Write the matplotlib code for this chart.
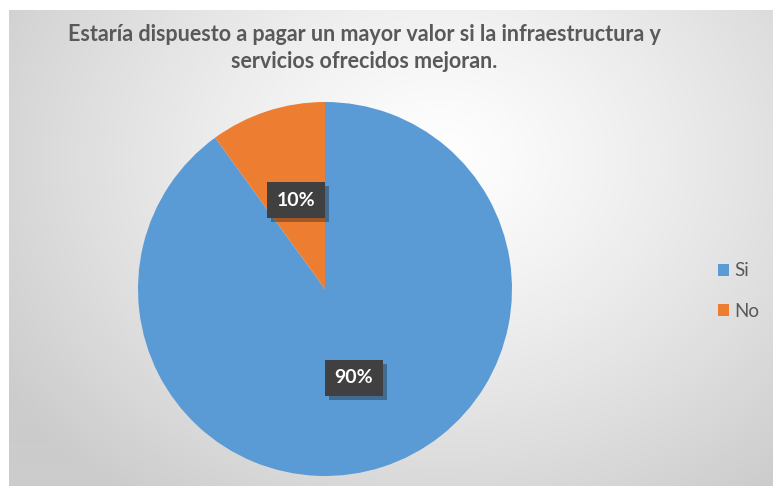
import numpy as np
import matplotlib
matplotlib.use("Agg")
import matplotlib.pyplot as plt
import matplotlib.patheffects as pe
from matplotlib.patches import Patch

plt.rcParams['font.family'] = ['Lato', 'DejaVu Sans']

# data
labels = ["Si", "No"]
values = [90, 10]
colors = ["#5B9BD5", "#ED7D31"]
title = "Estaría dispuesto a pagar un mayor valor si la infraestructura y\nservicios ofrecidos mejoran."

W, H = 773, 486
fig = plt.figure(figsize=(W / 100, H / 100), dpi=100)
fig.patch.set_facecolor("white")

# chart area with radial grey gradient
bg = fig.add_axes([9 / W, 0, 1 - 9 / W, 1 - 10 / H])
bg.set_axis_off()
yy, xx = np.mgrid[0:476, 0:764]
cx, cy = 430, 150
d = np.sqrt(((xx - cx) / 520.0) ** 2 + ((yy - cy) / 420.0) ** 2)
d = np.clip(d, 0, 1)
shade = 1.0 - 0.20 * d ** 1.2
img = np.dstack([shade, shade, shade])
bg.imshow(img, aspect="auto", extent=[0, 1, 0, 1], origin="upper")
bg.set_xlim(0, 1)
bg.set_ylim(0, 1)

fig.text(364 / W, 1 - 48 / H, title, ha="center", va="center", fontsize=15.5,
         fontweight="bold", color="#595959", linespacing=1.4)

# pie
cx_px, cy_px, r_px = 325, 289, 187
ax = fig.add_axes([(cx_px - r_px) / W, (H - cy_px - r_px) / H, 2 * r_px / W, 2 * r_px / H])
ax.set_axis_off()
wedges, texts, autotexts = ax.pie(values, colors=colors, startangle=90, counterclock=False,
                                  autopct="%1.0f%%", pctdistance=0.5, radius=1,
                                  wedgeprops=dict(linewidth=0))
ax.set_xlim(-1, 1)
ax.set_ylim(-1, 1)
for t in autotexts:
    t.set_color("white")
    t.set_fontweight("bold")
    t.set_fontsize(14)
    t.set_bbox(dict(boxstyle="square,pad=0.5", facecolor="#404040", edgecolor="none"))
    t.get_bbox_patch().set_path_effects([pe.SimplePatchShadow(offset=(3, -3), alpha=0.35),
                                         pe.Normal()])

handles = [Patch(facecolor=c, edgecolor="none", label=l) for c, l in zip(colors, labels)]
leg = fig.legend(handles=handles, loc="center left", bbox_to_anchor=(701 / W, 1 - 291 / H),
                 frameon=False, fontsize=13.5, handlelength=0.6, handleheight=0.6,
                 handletextpad=0.3, labelspacing=1.25)
for t in leg.get_texts():
    t.set_color("#595959")

fig.savefig("out.png", dpi=100)
